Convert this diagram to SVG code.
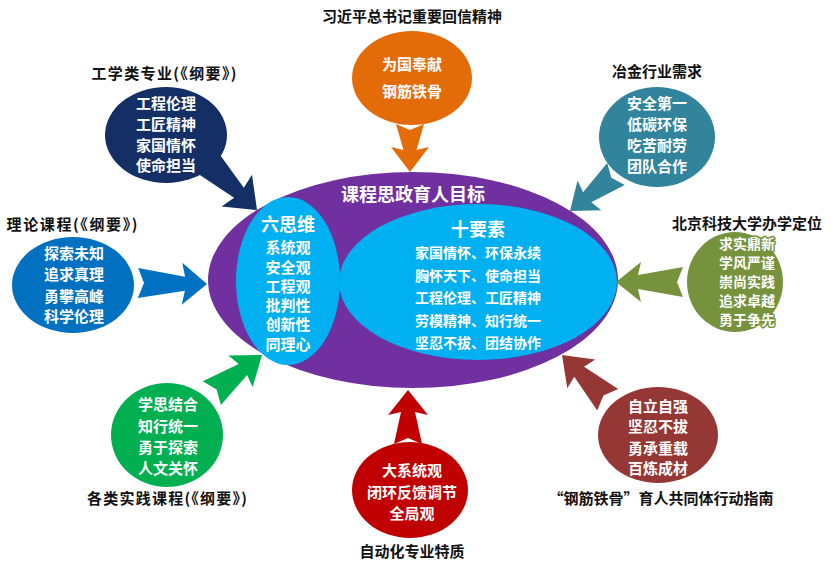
<svg xmlns="http://www.w3.org/2000/svg" width="831" height="567" viewBox="0 0 831 567">
<style>
text{font-family:"Noto Sans CJK SC","Noto Sans",sans-serif;font-weight:bold;text-anchor:middle;dominant-baseline:central}
.t{fill:#111;font-size:15px}
.w{fill:#fff;font-size:15px}
.w14{fill:#fff;font-size:14px}
.big{fill:#fff;font-size:18px}
</style>
<rect width="831" height="567" fill="#fff"/>

<g id="center">
<ellipse cx="413" cy="280" rx="205" ry="108" fill="#7030A0"/>
<text class="big" x="413" y="193">课程思政育人目标</text>
<g id="six">
<ellipse cx="288" cy="281" rx="52" ry="84" fill="#00B0F0"/>
<text class="big" x="288" y="223">六思维</text>
<text class="w" x="288" y="246">系统观</text>
<text class="w" x="288" y="266">安全观</text>
<text class="w" x="288" y="285">工程观</text>
<text class="w" x="288" y="304">批判性</text>
<text class="w" x="288" y="323">创新性</text>
<text class="w" x="288" y="343">同理心</text>
</g>
<g id="ten">
<ellipse cx="478" cy="282" rx="139" ry="78" fill="#00B0F0"/>
<text class="big" x="478" y="228">十要素</text>
<text class="w14" x="478" y="252">家国情怀、环保永续</text>
<text class="w14" x="478" y="275">胸怀天下、使命担当</text>
<text class="w14" x="478" y="297">工程伦理、工匠精神</text>
<text class="w14" x="478" y="320">劳模精神、知行统一</text>
<text class="w14" x="478" y="342">坚忍不拔、团结协作</text>
</g>
</g>

<g id="n-top">
<text class="t" x="412" y="15">习近平总书记重要回信精神</text>
<ellipse cx="412" cy="78" rx="60" ry="47" fill="#E36C09"/>
<text class="w" x="412" y="63">为国奉献</text>
<text class="w" x="412" y="90">钢筋铁骨</text>
</g>

<g id="n-eng">
<text class="t" x="164" y="72" textLength="145" lengthAdjust="spacing">工学类专业(《纲要》)</text>
<ellipse cx="166" cy="135" rx="61" ry="48" fill="#142F66"/>
<text class="w" x="166" y="102">工程伦理</text>
<text class="w" x="166" y="123">工匠精神</text>
<text class="w" x="166" y="144">家国情怀</text>
<text class="w" x="166" y="164">使命担当</text>
</g>

<g id="n-metal">
<text class="t" x="657" y="70">冶金行业需求</text>
<ellipse cx="657" cy="137" rx="58" ry="50" fill="#31849B"/>
<text class="w" x="657" y="102">安全第一</text>
<text class="w" x="657" y="123">低碳环保</text>
<text class="w" x="657" y="144">吃苦耐劳</text>
<text class="w" x="657" y="165">团队合作</text>
</g>

<g id="n-theory">
<text class="t" x="72" y="223" textLength="131" lengthAdjust="spacing">理论课程(《纲要》)</text>
<ellipse cx="73" cy="285" rx="61" ry="48" fill="#0070C0"/>
<text class="w" x="74" y="252">探索未知</text>
<text class="w" x="74" y="273">追求真理</text>
<text class="w" x="74" y="295">勇攀高峰</text>
<text class="w" x="74" y="315">科学伦理</text>
</g>

<g id="n-ustb">
<text class="t" x="747" y="222">北京科技大学办学定位</text>
<ellipse cx="735" cy="282" rx="48" ry="50" fill="#76923C"/>
<g style="stroke:#76923C;stroke-width:3;paint-order:stroke;stroke-linejoin:round">
<text class="w14" x="747" y="243">求实鼎新</text>
<text class="w14" x="747" y="262">学风严谨</text>
<text class="w14" x="747" y="281">崇尚实践</text>
<text class="w14" x="747" y="300">追求卓越</text>
<text class="w14" x="747" y="319">勇于争先</text>
</g>
</g>

<g id="n-practice">
<ellipse cx="167" cy="435" rx="56" ry="52" fill="#00B050"/>
<text class="w" x="168" y="403">学思结合</text>
<text class="w" x="168" y="425">知行统一</text>
<text class="w" x="168" y="446">勇于探索</text>
<text class="w" x="168" y="467">人文关怀</text>
<text class="t" x="167" y="497" textLength="160" lengthAdjust="spacing">各类实践课程(《纲要》)</text>
</g>

<g id="n-guide">
<ellipse cx="658" cy="435" rx="60" ry="48" fill="#953735"/>
<text class="w" x="658" y="405">自立自强</text>
<text class="w" x="658" y="425">坚忍不拔</text>
<text class="w" x="658" y="447">勇承重载</text>
<text class="w" x="658" y="467">百炼成材</text>
<text class="t" x="661" y="497">“钢筋铁骨”育人共同体行动指南</text>
</g>

<g id="n-auto">
<ellipse cx="410" cy="490" rx="58" ry="48" fill="#C00000"/>
<text class="w" x="412" y="469">大系统观</text>
<text class="w" x="412" y="491">闭环反馈调节</text>
<text class="w" x="412" y="512">全局观</text>
<text class="t" x="412" y="550">自动化专业特质</text>
</g>

<g id="connectors">
<polygon fill="#E36C09" transform="translate(410,172) rotate(90)" points="0,0 -25,-19 -22,-6.5 -48,-14 -42,0 -48,14 -22,6.5 -25,19"/>
<polygon fill="#142F66" transform="translate(257,210) rotate(43.8)" points="0,0 -28,-22 -25,-7 -69,-15 -63,0 -69,15 -25,7 -28,22"/>
<polygon fill="#31849B" transform="translate(570,211) rotate(141.2)" points="0,0 -25,-19 -22,-6.5 -59,-14 -53,0 -59,14 -22,6.5 -25,19"/>
<polygon fill="#0070C0" transform="translate(207,284) rotate(0.8)" points="0,0 -25,-21 -22,-7 -69,-15 -63,0 -69,15 -22,7 -25,21"/>
<polygon fill="#76923C" transform="translate(616,282) rotate(180)" points="0,0 -25,-20 -22,-7 -67,-15 -61,0 -67,15 -22,7 -25,20"/>
<polygon fill="#00B050" transform="translate(262,355) rotate(-37.2)" points="0,0 -27,-20 -24,-7 -63,-15 -57,0 -63,15 -24,7 -27,20"/>
<polygon fill="#953735" transform="translate(562,355) rotate(224.4)" points="0,0 -27,-20 -24,-7 -64,-15 -58,0 -64,15 -24,7 -27,20"/>
<polygon fill="#C00000" transform="translate(408,390) rotate(-90)" points="0,0 -25,-20 -22,-7 -54,-14 -48,0 -54,14 -22,7 -25,20"/>
</g>
</svg>
